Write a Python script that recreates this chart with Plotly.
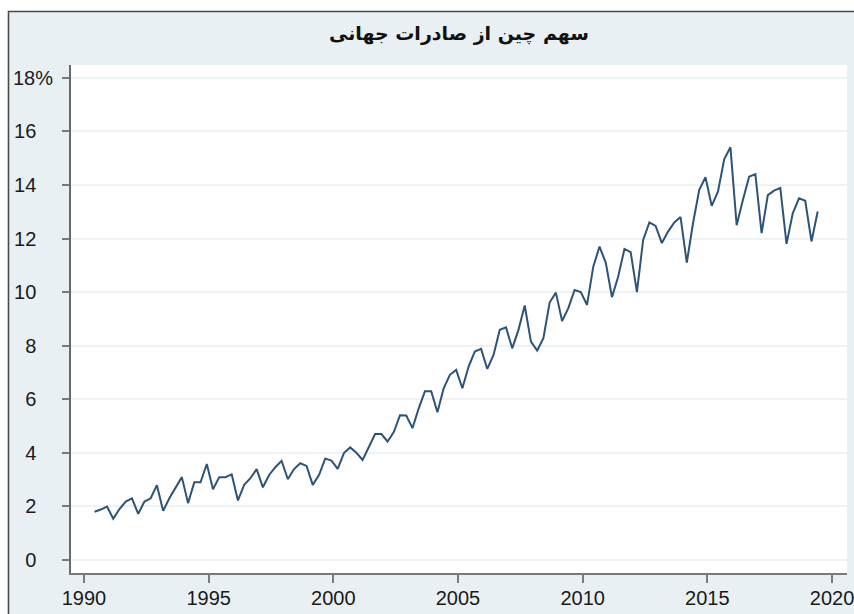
import plotly.graph_objects as go

# ---- data (quarterly, 1990Q2 .. 2019Q2), China's share of world exports, % ----
start_year = 1990
start_quarter = 2
china_share = [
    1.80, 1.88, 1.99,                      # 1990 Q2-Q4
    1.54, 1.90, 2.18, 2.30,                # 1991
    1.72, 2.18, 2.30, 2.79,                # 1992
    1.83, 2.30, 2.68, 3.09,                # 1993
    2.12, 2.90, 2.90, 3.58,                # 1994
    2.64, 3.09, 3.09, 3.19,                # 1995
    2.22, 2.80, 3.05, 3.39,                # 1996
    2.71, 3.17, 3.46, 3.70,                # 1997
    3.01, 3.39, 3.61, 3.51,                # 1998
    2.80, 3.17, 3.78, 3.71,                # 1999
    3.40, 3.99, 4.20, 4.00,                # 2000
    3.73, 4.23, 4.70, 4.70,                # 2001
    4.42, 4.77, 5.40, 5.39,                # 2002
    4.92, 5.66, 6.30, 6.30,                # 2003
    5.51, 6.41, 6.91, 7.09,                # 2004
    6.41, 7.22, 7.78, 7.88,                # 2005
    7.13, 7.65, 8.59, 8.68,                # 2006
    7.90, 8.59, 9.50, 8.15,                # 2007
    7.82, 8.28, 9.61, 9.98,                # 2008
    8.92, 9.40, 10.08, 10.00,              # 2009
    9.52, 10.95, 11.70, 11.10,             # 2010
    9.81, 10.58, 11.61, 11.49,             # 2011
    10.00, 11.95, 12.60, 12.47,            # 2012
    11.83, 12.26, 12.60, 12.80,            # 2013
    11.10, 12.57, 13.82, 14.29,            # 2014
    13.22, 13.75, 14.96, 15.41,            # 2015
    12.50, 13.44, 14.31, 14.40,            # 2016
    12.20, 13.62, 13.79, 13.89,            # 2017
    11.80, 12.94, 13.50, 13.41,            # 2018
    11.89, 13.01,                          # 2019 Q1-Q2
]

x_tick_values = [1990, 1995, 2000, 2005, 2010, 2015, 2020]
y_tick_values = [0, 2, 4, 6, 8, 10, 12, 14, 16, 18]
NB = "\u00a0"
y_tick_labels = [str(v) + NB * 3 for v in y_tick_values[:-1]] + ["18%"]
title_text = "سهم چین از صادرات جهانی"

# quarter positions (mid-quarter)
dates = []
for k in range(len(china_share)):
    q_index = (start_quarter - 1) + k
    year = start_year + q_index // 4
    q = q_index % 4
    dates.append(year + q / 4 + 0.175)

# ---- layout geometry ----
W, H = 854, 614
ML, MR, MT, MB = 71, 7, 65, 41
PW = W - ML - MR
PH = H - MT - MB


def px_x(p):
    return (p - ML) / PW


def px_y(p):
    return (H - MB - p) / PH


BG = "#e8f0f3"
LINE = "#2b5478"
AXIS = "#7a7a7a"
TICKFONT = dict(family="Liberation Sans, Arial, sans-serif", size=20, color="#1a1a1a")

fig = go.Figure()
fig.add_trace(go.Scatter(
    x=dates, y=china_share, mode="lines",
    line=dict(color=LINE, width=2),
    hoverinfo="x+y", showlegend=False,
))

shapes = [
    # white strips outside the frame
    dict(type="rect", xref="paper", yref="paper", x0=px_x(-20), x1=px_x(W + 20),
         y0=px_y(11), y1=px_y(-20), fillcolor="white", line=dict(width=0), layer="below"),
    dict(type="rect", xref="paper", yref="paper", x0=px_x(-20), x1=px_x(8),
         y0=px_y(H + 20), y1=px_y(-20), fillcolor="white", line=dict(width=0), layer="below"),
    # frame lines
    dict(type="line", xref="paper", yref="paper", x0=px_x(8), x1=px_x(W + 20),
         y0=px_y(11.5), y1=px_y(11.5), line=dict(color="#4a4a4a", width=1.6)),
    dict(type="line", xref="paper", yref="paper", x0=px_x(8.5), x1=px_x(8.5),
         y0=px_y(11), y1=px_y(H + 20), line=dict(color="#4a4a4a", width=1.6)),
]

fig.update_layout(
    width=W, height=H,
    margin=dict(l=ML, r=MR, t=MT, b=MB, pad=0, autoexpand=False),
    paper_bgcolor=BG, plot_bgcolor="white",
    shapes=shapes,
    title=dict(text="<b>" + title_text + "</b>", x=0.5, xref="paper", xanchor="center",
               y=1 - 33 / H, yref="container", yanchor="middle",
               font=dict(family="DejaVu Sans, sans-serif", size=19, color="#111111")),
    xaxis=dict(range=[1989.48, 2020.6], tickmode="array", tickvals=x_tick_values,
               ticktext=[str(v) for v in x_tick_values], automargin=False,
               showgrid=False, zeroline=False, showline=True, linecolor=AXIS, linewidth=2,
               ticks="outside", ticklen=8, tickwidth=2, tickcolor=AXIS,
               tickfont=TICKFONT, ticklabelstandoff=-2, ticklabeloverflow="allow"),
    yaxis=dict(range=[-0.49, 18.48], tickmode="array", tickvals=y_tick_values,
               ticktext=y_tick_labels, automargin=False,
               showgrid=True, gridcolor="#edf3f5", gridwidth=2,
               zeroline=False, showline=True, linecolor="#6a6a6a", linewidth=2,
               ticks="outside", ticklen=7, tickwidth=2, tickcolor=AXIS,
               tickfont=TICKFONT, ticklabelstandoff=5, ticklabeloverflow="allow"),
)

fig.write_html("out.html", config={"displayModeBar": False},
               post_script="document.body.style.margin='0px';")
